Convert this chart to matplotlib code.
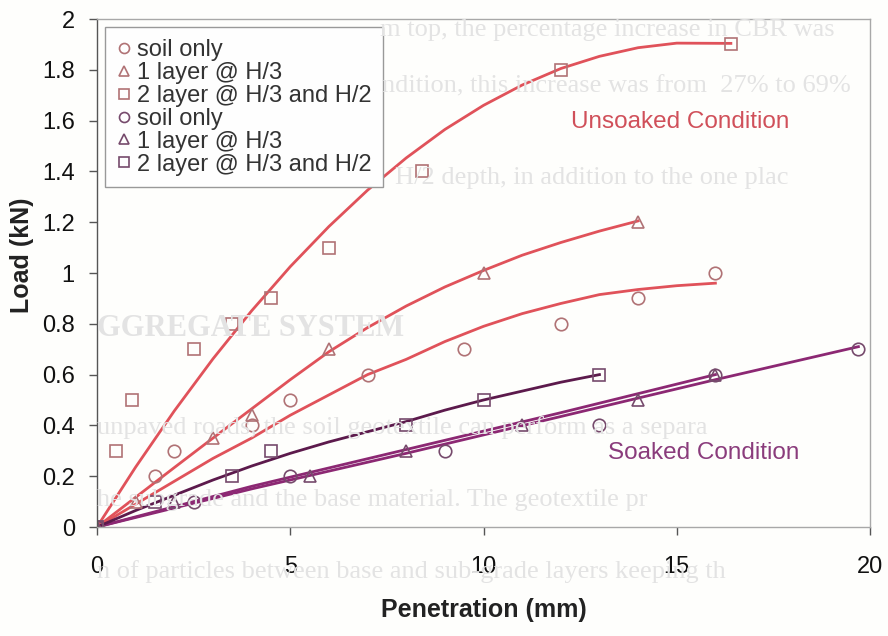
import numpy as np
import matplotlib
matplotlib.use('Agg')
import matplotlib.pyplot as plt

plt.rcParams['font.family'] = ['Liberation Sans', 'DejaVu Sans']

# Measured points (penetration in mm, load in kN)
unsoaked_soil_x = [0, 1.5, 2, 4, 5, 7, 9.5, 12, 14, 16]
unsoaked_soil_y = [0, 0.2, 0.3, 0.4, 0.5, 0.6, 0.7, 0.8, 0.9, 1.0]
unsoaked_1l_x = [0, 1, 3, 4, 6, 10, 14]
unsoaked_1l_y = [0, 0.1, 0.35, 0.44, 0.7, 1.0, 1.2]
unsoaked_2l_x = [0, 0.5, 0.9, 2.5, 3.5, 4.5, 6, 8.4, 12, 16.4]
unsoaked_2l_y = [0, 0.3, 0.5, 0.7, 0.8, 0.9, 1.1, 1.4, 1.8, 1.9]

soaked_soil_x = [0, 2.5, 5, 9, 13, 16, 19.7]
soaked_soil_y = [0, 0.1, 0.2, 0.3, 0.4, 0.6, 0.7]
soaked_1l_x = [0, 2, 5.5, 8, 11, 14, 16]
soaked_1l_y = [0, 0.1, 0.2, 0.3, 0.4, 0.5, 0.6]
soaked_2l_x = [0, 1.5, 3.5, 4.5, 8, 10, 13]
soaked_2l_y = [0, 0.1, 0.2, 0.3, 0.4, 0.5, 0.6]

# Trend lines
trend_u_soil_x = [0, 1, 2, 3, 4, 5, 6, 7, 8, 9, 10, 11, 12, 13, 14, 15, 16]
trend_u_soil_y = [0, 0.09, 0.18, 0.27, 0.35, 0.44, 0.52, 0.6, 0.66, 0.73, 0.79, 0.84, 0.88, 0.915, 0.935, 0.95, 0.96]
trend_u_1l_x = [0, 1, 2, 3, 4, 5, 6, 7, 8, 9, 10, 11, 12, 13, 14]
trend_u_1l_y = [0, 0.117, 0.234, 0.35, 0.465, 0.58, 0.69, 0.785, 0.87, 0.945, 1.01, 1.07, 1.12, 1.165, 1.205]
trend_u_2l_x = [0, 1, 2, 3, 4, 5, 6, 7, 8, 9, 10, 11, 12, 13, 14, 15, 16.4]
trend_u_2l_y = [0, 0.236, 0.457, 0.662, 0.851, 1.025, 1.183, 1.326, 1.453, 1.565, 1.66, 1.74, 1.805, 1.853, 1.887, 1.905, 1.904]

trend_s_soil_x = [0, 4, 8, 12, 16, 19.7]
trend_s_soil_y = [0, 0.15, 0.29, 0.435, 0.58, 0.71]
trend_s_1l_x = [0, 4, 8, 12, 16]
trend_s_1l_y = [0, 0.16, 0.305, 0.45, 0.6]
trend_s_2l_x = [0, 1, 2, 3, 4, 5, 6, 7, 8, 9, 10, 11, 12, 13]
trend_s_2l_y = [0, 0.065, 0.125, 0.185, 0.24, 0.29, 0.335, 0.375, 0.415, 0.46, 0.5, 0.535, 0.57, 0.6]

labels = ['soil only', '1 layer @ H/3', '2 layer @ H/3 and H/2']

# faint page text showing through behind the figure: (x px, y px, text, bold)
page_lines = [
    (380, 30, 'm top, the percentage increase in CBR was', False),
    (382, 86, 'ndition, this increase was from  27% to 69%', False),
    (395, 178, 'H/2 depth, in addition to the one plac', False),
    (97, 328, 'GGREGATE SYSTEM', True),
    (97, 428, 'unpaved roads, the soil geotextile can perform as a separa', False),
    (97, 500, 'he subgrade and the base material. The geotextile pr', False),
    (97, 572, 'n of particles between base and sub-grade layers keeping th', False),
]

u_line = '#e0525a'
u_mark = '#b07275'
s_line = '#8c2873'
s_line_dark = '#5c1a4c'
s_mark = '#764a6c'

fig = plt.figure(figsize=(8.88, 6.36), dpi=100, facecolor='#fefefc')
W, H = 888, 636

for x, y, txt, bold in page_lines:
    fig.text(x / W, 1 - y / H, txt, fontsize=22 if bold else 19,
             family='Liberation Serif', weight='bold' if bold else 'normal',
             color='#e3e3e3', va='center', ha='left', zorder=0)

ax = fig.add_axes([97 / W, 1 - 527 / H, (870 - 97) / W, (527 - 19) / H])
ax.set_facecolor('none')

# trend lines
ax.plot(trend_u_soil_x, trend_u_soil_y, color=u_line, lw=2)
ax.plot(trend_u_1l_x, trend_u_1l_y, color=u_line, lw=2)
ax.plot(trend_u_2l_x, trend_u_2l_y, color=u_line, lw=2)
ax.plot(trend_s_soil_x, trend_s_soil_y, color=s_line, lw=2)
ax.plot(trend_s_1l_x, trend_s_1l_y, color=s_line, lw=2)
ax.plot(trend_s_2l_x, trend_s_2l_y, color=s_line_dark, lw=2)

# measured points
mk = dict(ls='none', mfc='none', ms=9, mew=1.2)
ax.plot(unsoaked_soil_x, unsoaked_soil_y, marker='o', mec=u_mark, label=labels[0], **mk)
ax.plot(unsoaked_1l_x, unsoaked_1l_y, marker='^', mec=u_mark, label=labels[1], **mk)
ax.plot(unsoaked_2l_x, unsoaked_2l_y, marker='s', mec=u_mark, label=labels[2], **mk)
ax.plot(soaked_soil_x, soaked_soil_y, marker='o', mec=s_mark, label=labels[0], **mk)
ax.plot(soaked_1l_x, soaked_1l_y, marker='^', mec=s_mark, label=labels[1], **mk)
ax.plot(soaked_2l_x, soaked_2l_y, marker='s', mec=s_mark, label=labels[2], **mk)

ax.set_xlim(0, 20)
ax.set_ylim(0, 2)
ax.set_xticks([0, 5, 10, 15, 20])
ax.set_yticks(np.arange(0, 2.01, 0.2))
ax.set_yticklabels(['0', '0.2', '0.4', '0.6', '0.8', '1', '1.2', '1.4', '1.6', '1.8', '2'])
ax.tick_params(axis='both', direction='out', length=6, width=1, color='#555555',
               labelsize=17, labelcolor='#111111')
ax.tick_params(axis='x', pad=15)
ax.tick_params(axis='y', pad=10)

for side in ['top', 'right', 'bottom']:
    ax.spines[side].set_color('#a8a8a8')
    ax.spines[side].set_linewidth(1)
ax.spines['left'].set_color('#555555')
ax.spines['left'].set_linewidth(1)

ax.set_xlabel('Penetration (mm)', fontsize=18, weight='bold', color='#222222', labelpad=14)
fig.text(22 / W, 1 - 255 / H, 'Load (kN)', fontsize=18, weight='bold', color='#222222',
         rotation=90, ha='center', va='center')

ax.text(15.1, 1.595, 'Unsoaked Condition', fontsize=17.5, color='#d0505a', ha='center', va='center')
ax.text(15.7, 0.293, 'Soaked Condition', fontsize=17.5, color='#8a3c7c', ha='center', va='center')

leg = ax.legend(loc='upper left', bbox_to_anchor=(0.0103, 0.984), fontsize=17,
                markerscale=0.8, handlelength=0.6, handletextpad=0.25,
                labelspacing=0.04, borderpad=0.5, borderaxespad=0,
                fancybox=False, framealpha=1, edgecolor='#999999', facecolor='#fefefe')
for t in leg.get_texts():
    t.set_color('#333333')

fig.savefig('out.png', dpi=100, facecolor=fig.get_facecolor())
